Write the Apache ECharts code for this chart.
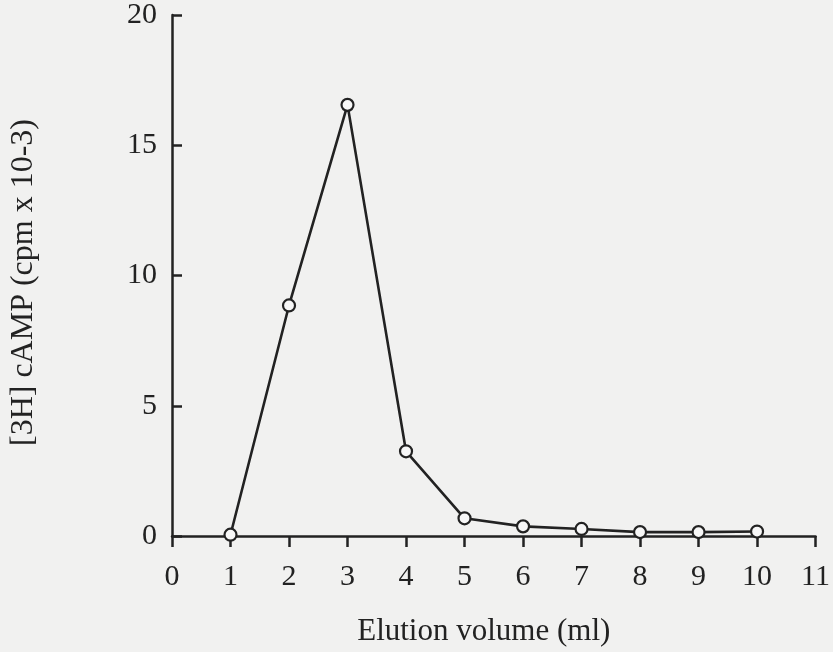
<!DOCTYPE html>
<html>
<head>
<meta charset="utf-8">
<script src="https://cdn.jsdelivr.net/npm/echarts@6/dist/echarts.min.js"></script>
<style>
html,body{margin:0;padding:0;background:#f1f1f0;}
#chart{width:833px;height:652px;}
</style>
</head>
<body>
<div id="chart"></div>
<script>
var elutionVolume = [1, 2, 3, 4, 5, 6, 7, 8, 9, 10];
var campCpm = [0.05, 8.85, 16.55, 3.25, 0.68, 0.37, 0.27, 0.15, 0.15, 0.17];
var xAxisTitle = 'Elution volume (ml)';
var yAxisTitle = '[3H] cAMP (cpm x 10-3)';

var points = elutionVolume.map(function (v, i) { return [v, campCpm[i]]; });
var ink = '#222';
var font = 'Liberation Serif';

var chart = echarts.init(document.getElementById('chart'), null, {renderer: 'canvas'});
chart.setOption({
  backgroundColor: '#f1f1f0',
  animation: false,
  grid: {left: 169, right: 16, top: 15, bottom: 115, containLabel: false},
  xAxis: {
    type: 'value', min: 0, max: 11, interval: 1,
    name: xAxisTitle, nameLocation: 'middle', nameGap: 80,
    nameTextStyle: {fontFamily: font, fontSize: 31, color: ink, padding: [0, 20, 0, 0]},
    axisLine: {show: true, lineStyle: {color: ink, width: 2.5}},
    axisTick: {show: true, inside: false, length: 11, lineStyle: {color: ink, width: 2.5}},
    axisLabel: {fontFamily: font, fontSize: 30, color: ink, margin: 26},
    splitLine: {show: false}
  },
  yAxis: {
    type: 'value', min: 0, max: 20, interval: 5,
    name: yAxisTitle, nameLocation: 'middle', nameGap: 132, nameRotate: 90,
    nameTextStyle: {fontFamily: font, fontSize: 32, color: ink, padding: [0, 14, 0, 0]},
    axisLine: {show: true, onZero: false, lineStyle: {color: ink, width: 2.5}},
    axisTick: {show: true, inside: true, length: 10, lineStyle: {color: ink, width: 2.5}},
    axisLabel: {fontFamily: font, fontSize: 30, color: ink, margin: 15, padding: [8, 0, 0, 0]},
    splitLine: {show: false}
  },
  series: [{
    type: 'line',
    data: points,
    symbol: 'circle',
    symbolSize: 12,
    showAllSymbol: true,
    lineStyle: {color: ink, width: 2.6},
    itemStyle: {color: '#f7f7f7', borderColor: ink, borderWidth: 2.2},
    z: 5
  }]
});
</script>
</body>
</html>
